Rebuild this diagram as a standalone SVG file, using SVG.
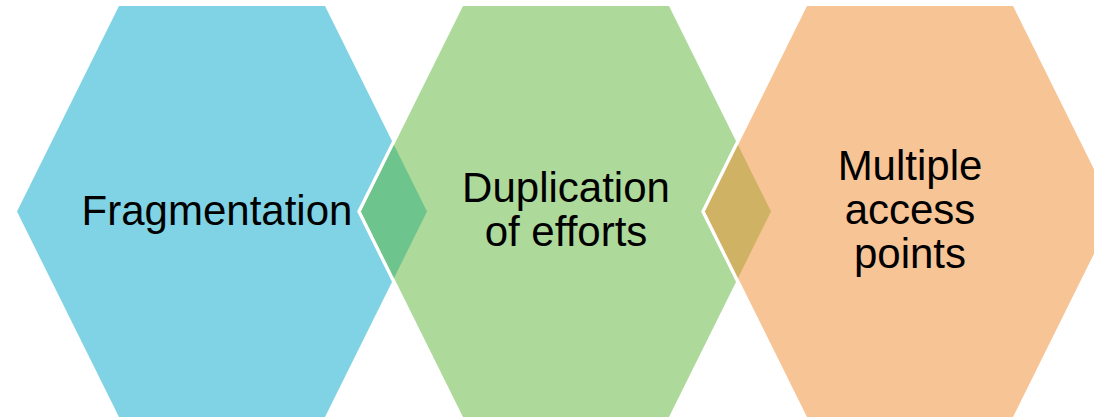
<svg xmlns="http://www.w3.org/2000/svg" width="1094" height="418" viewBox="0 0 1094 418">
<defs>
<polygon id="hex-shape" points="0,205.5 102,0 308,0 410,205.5 308,411 102,411"/>
</defs>
<style>
.halo{fill:#ffffff;stroke:#ffffff;stroke-width:7;stroke-linejoin:miter}
.lbl{font-family:"Liberation Sans",Arial,sans-serif;font-size:42px;fill:#000000;text-anchor:middle}
</style>
<rect width="1094" height="418" fill="#ffffff"/>
<g id="node-fragmentation">
<use href="#hex-shape" x="17" y="6" fill="#7FD3E4"/>
<text class="lbl" x="217" y="225" font-size="40.5">Fragmentation</text>
</g>
<g id="node-duplication">
<use href="#hex-shape" x="361" y="6" class="halo"/>
<use href="#hex-shape" x="361" y="6" fill="#ADD99A"/>
<polygon id="overlap-1" points="361,211.5 394,145 427,211.5 394,278" fill="#6DC48D"/>
<text class="lbl" x="566" y="202">Duplication</text>
<text class="lbl" x="566" y="246">of efforts</text>
</g>
<g id="node-multiple">
<use href="#hex-shape" x="705" y="6" class="halo"/>
<use href="#hex-shape" x="705" y="6" fill="#F7C496"/>
<polygon id="overlap-2" points="705,211.5 738,145 771,211.5 738,278" fill="#CFB264"/>
<text class="lbl" x="910" y="180">Multiple</text>
<text class="lbl" x="910" y="224">access</text>
<text class="lbl" x="910" y="268">points</text>
</g>
<g id="connectors"></g>
</svg>
